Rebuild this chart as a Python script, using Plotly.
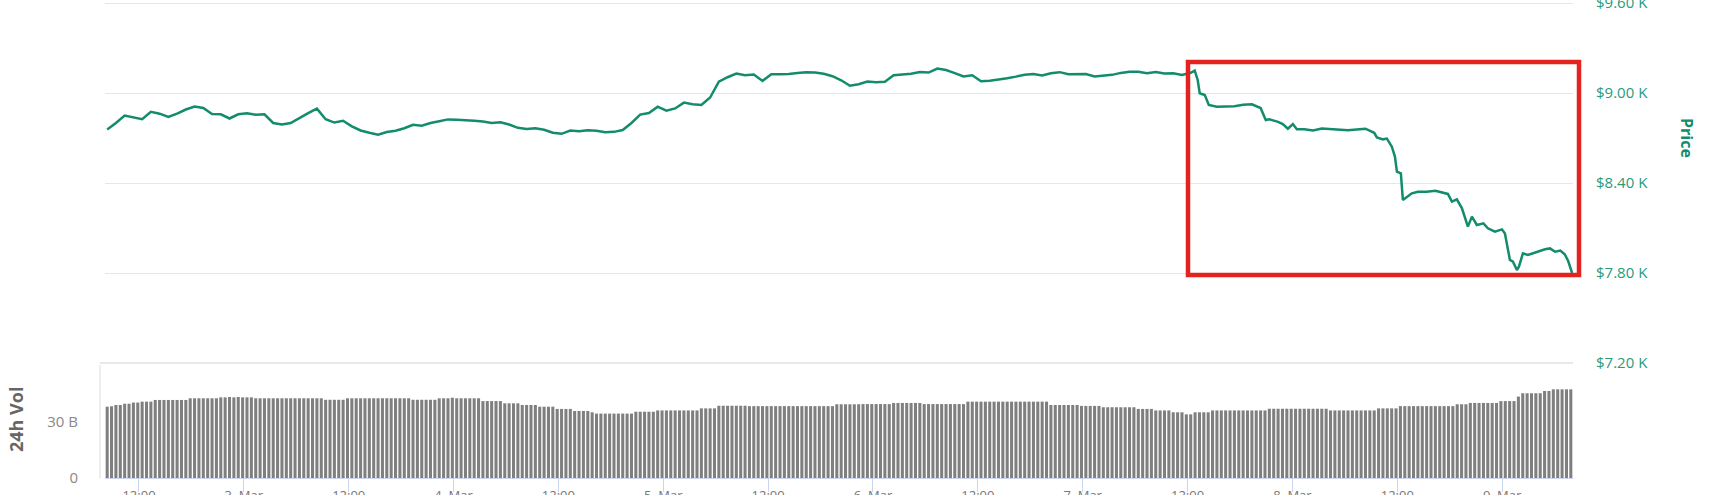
import plotly.graph_objects as go

W, H = 1709, 495

# ---------------- data ----------------
# price (USD); time in hours from the chart start
price_hours = list(range(124)) + [
    124.0, 124.46, 124.8, 125.03, 125.61, 126.07, 127, 128, 129, 130, 131, 132,
    132.59, 133, 134, 134.54, 135.12, 135.69, 136.15, 137, 138, 139, 140, 141,
    142, 143, 144, 145, 145.31, 146.0, 146.45, 147.02, 147.37, 147.6, 148.05,
    148.28, 148.74, 149.31, 150, 151, 152, 153, 153.43, 153.89, 154.46, 155.04,
    155.72, 156.18, 156.75, 157.5, 158.01, 158.82, 159.62, 159.96, 160.53,
    160.88, 161.33, 161.56, 162.02, 162.59, 163.6, 164.55, 165.12, 165.7,
    166.3, 166.8, 167.2, 167.65,
]
price_usd = [
    8757, 8800, 8850, 8835, 8825, 8875, 8862, 8840, 8862, 8890, 8910, 8900,
    8860, 8858, 8830, 8858, 8865, 8855, 8858, 8800, 8790, 8800, 8835, 8866,
    8896, 8825, 8803, 8815, 8778, 8750, 8735, 8722, 8740, 8748, 8765, 8788,
    8782, 8800, 8812, 8824, 8822, 8820, 8815, 8810, 8800, 8805, 8790, 8768,
    8760, 8765, 8755, 8735, 8728, 8750, 8745, 8752, 8748, 8738, 8741, 8753,
    8800, 8856, 8866, 8909, 8882, 8897, 8936, 8925, 8920, 8970, 9075, 9105,
    9130, 9118, 9123, 9080, 9125, 9125, 9126, 9133, 9138, 9136, 9128, 9112,
    9085, 9048, 9058, 9077, 9072, 9075, 9118, 9123, 9128, 9140, 9136, 9163,
    9153, 9133, 9110, 9118, 9078, 9082, 9089, 9098, 9109, 9122, 9127, 9117,
    9131, 9139, 9125, 9127, 9127, 9110, 9117, 9121, 9134, 9141, 9142, 9131,
    9140, 9130, 9131, 9120,
    9135, 9149, 9087, 8998, 8987, 8920, 8909, 8913, 8912, 8922, 8925, 8900,
    8820, 8825, 8808, 8793, 8762, 8793, 8758, 8758, 8750, 8763, 8758, 8758,
    8752, 8757, 8762, 8735, 8704, 8691, 8696, 8642, 8576, 8476, 8464,
    8287, 8309, 8331, 8342, 8342, 8348, 8334, 8327, 8276, 8291, 8231,
    8109, 8176, 8120, 8131, 8098, 8076, 8091, 8064, 7887,
    7876, 7820, 7842, 7931, 7920, 7942, 7958, 7964, 7942,
    7950, 7925, 7880, 7800,
]

# 24h volume (billions USD), one bar every 30 minutes (336 bars)
volume_b = [
    38.2, 38.4, 39.1, 39.1, 39.8, 39.8, 40.4, 40.4, 40.9, 40.9, 40.9, 41.8,
    41.8, 41.8, 41.8, 41.8, 41.8, 41.8, 41.8, 42.7, 42.7, 42.7, 42.7, 42.7,
    42.7, 42.7, 43.2, 43.2, 43.4, 43.2, 43.4, 43.2, 43.2, 43.2, 42.7, 42.7,
    42.7, 42.7, 42.7, 42.7, 42.7, 42.7, 42.7, 42.7, 42.7, 42.7, 42.7, 42.7,
    42.7, 42.7, 41.9, 41.9, 41.9, 41.9, 41.9, 42.7, 42.7, 42.7, 42.7, 42.7,
    42.7, 42.7, 42.7, 42.7, 42.7, 42.7, 42.7, 42.7, 42.7, 42.7, 41.9, 41.9,
    41.9, 41.9, 41.9, 41.9, 42.7, 42.7, 42.7, 43.0, 42.7, 42.7, 42.7, 42.7,
    42.7, 42.7, 41.2, 41.2, 41.2, 41.2, 41.2, 40.0, 40.0, 40.0, 40.0, 39.1,
    39.1, 39.1, 39.1, 38.2, 38.2, 38.2, 38.2, 37.0, 37.0, 37.0, 37.0, 35.9,
    35.9, 35.9, 35.9, 35.2, 34.5, 34.5, 34.5, 34.5, 34.5, 34.5, 34.5, 34.5,
    34.5, 35.5, 35.5, 35.5, 35.5, 35.5, 36.2, 36.2, 36.2, 36.2, 36.2, 36.2,
    36.2, 36.2, 36.2, 36.2, 37.3, 37.3, 37.3, 37.3, 38.7, 38.7, 38.7, 38.7,
    38.7, 38.7, 38.7, 38.5, 38.5, 38.5, 38.5, 38.5, 38.5, 38.5, 38.5, 38.5,
    38.5, 38.5, 38.5, 38.5, 38.5, 38.5, 38.5, 38.5, 38.5, 38.5, 38.5, 39.5,
    39.5, 39.5, 39.5, 39.5, 39.5, 39.6, 39.6, 39.6, 39.6, 39.6, 39.6, 39.6,
    40.2, 40.2, 40.2, 40.2, 40.2, 40.2, 40.2, 39.6, 39.6, 39.6, 39.6, 39.6,
    39.6, 39.6, 39.6, 39.6, 39.6, 40.9, 40.9, 40.9, 40.9, 40.9, 40.9, 40.9,
    40.9, 40.9, 40.9, 40.9, 40.9, 40.9, 40.9, 40.9, 40.9, 40.9, 40.9, 40.9,
    39.1, 39.1, 39.1, 39.1, 39.1, 39.1, 39.1, 38.6, 38.6, 38.6, 38.6, 38.6,
    37.9, 37.9, 37.9, 37.9, 37.9, 37.9, 37.9, 37.9, 37.0, 37.0, 37.0, 37.0,
    36.2, 36.2, 36.2, 36.2, 35.2, 35.2, 35.2, 34.1, 34.1, 35.2, 35.2, 35.2,
    35.2, 36.2, 36.2, 36.2, 36.2, 36.2, 36.2, 36.2, 36.2, 36.2, 36.2, 36.2,
    36.2, 36.2, 37.1, 37.1, 37.1, 37.1, 37.1, 37.1, 37.1, 37.1, 37.1, 37.1,
    37.1, 37.1, 37.1, 37.1, 36.2, 36.2, 36.2, 36.2, 36.2, 36.2, 36.2, 36.2,
    36.2, 36.2, 36.2, 37.3, 37.3, 37.3, 37.3, 37.3, 38.5, 38.5, 38.5, 38.5,
    38.5, 38.5, 38.5, 38.5, 38.5, 38.5, 38.5, 38.5, 38.5, 39.5, 39.5, 39.5,
    40.2, 40.2, 40.2, 40.2, 40.2, 40.2, 40.2, 41.2, 41.2, 41.2, 41.2, 43.6,
    45.4, 45.4, 45.4, 45.4, 45.4, 46.6, 46.6, 47.5, 47.5, 47.5, 47.5, 47.5,
]
volume_hours = [i * 0.5 for i in range(len(volume_b))]

# axis ticks
x_tick_hours = [3.64 + 12 * k for k in range(14)]
x_tick_text = ["12:00", "3. Mar", "12:00", "4. Mar", "12:00", "5. Mar", "12:00",
               "6. Mar", "12:00", "7. Mar", "12:00", "8. Mar", "12:00", "9. Mar"]
price_ticks = [7200, 7800, 8400, 9000, 9600]
price_tick_text = ["$7.20 K", "$7.80 K", "$8.40 K", "$9.00 K", "$9.60 K"]
vol_ticks = [0, 30]
vol_tick_text = ["0", "30 B"]

# ---------------- styling ----------------
GREEN = "#138c6c"
GREEN_TXT = "#2a9a7b"
GRID = "#e6e6e6"
FONT = "Open Sans"

def px_x(p):
    return p / W

def px_y(p):
    return 1 - p / H

plot_left, plot_right = 105, 1573
price_top, price_bottom = 0, 363      # pixel rows of the price pane
vol_top, vol_bottom = 363, 478
# price scale: 600 USD per 90 px  -> top row (y=0) is 3 px above $9.60 K
price_range = [7200, 9600 + 3 * 600 / 90]

fig = go.Figure()

fig.add_trace(go.Bar(
    x=volume_hours, y=volume_b, xaxis="x", yaxis="y2",
    marker=dict(color="#7f7f7f", line=dict(width=0)),
    hoverinfo="skip", showlegend=False,
))

fig.add_trace(go.Scatter(
    x=price_hours, y=price_usd, xaxis="x2", yaxis="y",
    mode="lines", line=dict(color=GREEN, width=2.5),
    hoverinfo="skip", showlegend=False,
))

xrange = [-0.25, 167.75]

fig.update_layout(
    width=W, height=H,
    template="none",
    margin=dict(l=0, r=0, t=0, b=0, pad=0),
    paper_bgcolor="white", plot_bgcolor="white",
    bargap=0.3,
    showlegend=False,
    font=dict(family=FONT),
    xaxis=dict(
        domain=[px_x(plot_left), px_x(plot_right)], range=xrange,
        anchor="y2", tickmode="array", tickvals=x_tick_hours, ticktext=x_tick_text,
        ticks="outside", ticklen=13, tickwidth=1, tickcolor="#ccd6eb",
        showline=True, linecolor="#ccd6eb", linewidth=1,
        showgrid=False, zeroline=False, automargin=False,
        tickfont=dict(family=FONT, size=13, color="#777777"),
        ticklabelstandoff=-8, ticklabeloverflow="allow",
    ),
    xaxis2=dict(
        domain=[px_x(plot_left), px_x(plot_right)], range=xrange,
        anchor="y", matches="x", showticklabels=False, ticks="",
        showgrid=False, zeroline=False, showline=False, automargin=False,
    ),
    yaxis=dict(
        domain=[px_y(price_bottom), px_y(price_top)], range=price_range,
        anchor="x2", side="right", tickmode="array",
        tickvals=price_ticks, ticktext=price_tick_text,
        showgrid=True, gridcolor=GRID, gridwidth=1,
        zeroline=False, showline=False, ticks="", automargin=False,
        tickfont=dict(family=FONT, size=15, color=GREEN_TXT),
        ticklabelstandoff=22, ticklabeloverflow="allow",
    ),
    yaxis2=dict(
        domain=[px_y(vol_bottom), px_y(vol_top)], range=[0, 61.6],
        anchor="x", side="left", tickmode="array",
        tickvals=vol_ticks, ticktext=vol_tick_text,
        showgrid=False, zeroline=False, showline=False, ticks="",
        automargin=False,
        tickfont=dict(family=FONT, size=15, color="#888888"),
        ticklabelstandoff=26,
    ),
    shapes=[
        # volume pane left axis line
        dict(type="line", xref="paper", yref="paper",
             x0=px_x(100), x1=px_x(100), y0=px_y(vol_bottom), y1=px_y(vol_top + 2),
             line=dict(color="#dcdcdc", width=1)),
        # volume pane top border
        dict(type="line", xref="paper", yref="paper",
             x0=px_x(100), x1=px_x(plot_right), y0=px_y(vol_top), y1=px_y(vol_top),
             line=dict(color="#e8e8e8", width=2)),
        # red highlight rectangle
        dict(type="rect", xref="paper", yref="paper",
             x0=px_x(1188), x1=px_x(1579), y0=px_y(275), y1=px_y(62),
             line=dict(color="#e3231f", width=4.5), fillcolor="rgba(0,0,0,0)"),
    ],
    annotations=[
        dict(text="<b>Price</b>", textangle=90, xref="paper", yref="paper",
             x=px_x(1687), y=px_y(138), xanchor="center", yanchor="middle",
             showarrow=False, font=dict(family=FONT, size=16, color=GREEN)),
        dict(text="<b>24h Vol</b>", textangle=-90, xref="paper", yref="paper",
             x=px_x(16), y=px_y(420), xanchor="center", yanchor="middle",
             showarrow=False, font=dict(family=FONT, size=18, color="#666666")),
    ],
)

fig.write_html(
    "out.html",
    config={"displayModeBar": False},
    post_script="document.body.style.margin='0px';document.body.style.overflow='hidden';",
)
